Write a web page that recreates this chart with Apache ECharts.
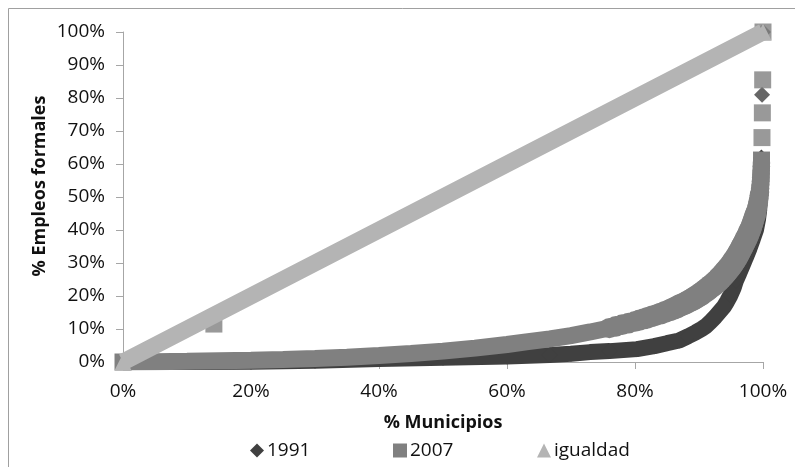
<!DOCTYPE html>
<html>
<head>
<meta charset="utf-8">
<script src="https://cdn.jsdelivr.net/npm/echarts@6/dist/echarts.min.js"></script>
<style>html,body{margin:0;padding:0;background:#fff;}#c{width:795px;height:467px;}</style>
</head>
<body>
<div id="c"></div>
<script>
// % Municipios (x) vs % Empleos formales (y)
var serie1991 = [[0,0],[10,0],[20,0.1],[30,0.4],[40,0.9],[50,1.3],[60,1.7],[66.7,2.1],[70,2.5],[73,3.0],[76,3.3],[80.3,3.9],[83,4.8],[85,5.7],[86.9,6.5],[88.3,7.8],[89.5,9.0],[90.4,10.0],[91.1,10.9],[91.8,12.2],[92.5,13.6],[93.2,15.2],[93.9,16.8],[94.4,18.4],[94.9,20.2],[95.4,22.4],[95.8,24.8],[96.3,27.0],[96.8,29.3],[97.3,31.6],[97.9,34.5],[98.4,37.2],[98.9,40],[99.2,43],[99.4,46],[99.5,49],[99.6,52.5],[99.65,56],[99.7,59],[99.75,62]];
var puntos1991 = [[99.85,81],[100,100]];
var serie2007 = [[0,0],[5,0.1],[10,0.2],[15,0.35],[20,0.5],[25,0.75],[30,1.05],[35,1.45],[40,2.0],[45,2.6],[50,3.3],[55,4.2],[60,5.3],[63,6.1],[66.7,7.0],[70,8.0],[73,9.1],[76,10.3],[77,10.8],[78,11.3],[79,11.8],[80,12.3],[80.7,12.7],[81.4,13.1],[82,13.4],[82.7,13.9],[83.4,14.3],[84,14.7],[84.7,15.2],[85.4,15.7],[86,16.2],[86.5,16.6],[87,17.1],[87.5,17.5],[88,18.0],[88.5,18.5],[89,19.0],[89.4,19.5],[89.9,20.1],[90.3,20.6],[90.8,21.3],[91.3,22.0],[91.7,22.7],[92.2,23.4],[92.6,24.1],[93,24.8],[93.35,25.5],[93.7,26.2],[94.0,26.9],[94.3,27.6],[94.6,28.3],[94.9,29.0],[95.15,29.7],[95.4,30.4],[95.65,31.1],[95.9,31.9],[96.1,32.6],[96.3,33.3],[96.5,34.0],[96.7,34.8],[96.9,35.5],[97.1,36.3],[97.3,37.1],[97.5,37.9],[97.7,38.7],[97.85,39.5],[98.05,40.3],[98.2,41.2],[98.35,42.0],[98.5,42.9],[98.65,43.8],[98.8,44.7],[98.95,45.6],[99.05,46.6],[99.15,47.5],[99.25,48.5],[99.35,49.5],[99.42,50.5],[99.5,51.5],[99.55,52.6],[99.6,53.7],[99.64,54.8],[99.67,55.9],[99.7,57.0],[99.72,58.1],[99.74,59.3],[99.76,60.3],[99.77,61.2]];
var puntos2007 = [[14.2,11.5],[99.84,68],[99.9,75.5],[99.95,85.5],[100,100]];
var igualdad = [[0,0],[10,10],[20,20],[30,30],[40,40],[50,50],[60,60],[70,70],[80,80],[90,90],[100,100]];

var c1991 = '#404040', c2007 = '#808080', cIg = '#b4b4b4';
var font = '"Open Sans", Lato, sans-serif';
var GRID = {left: 123, right: 32, top: 32, bottom: 105};
var W = 795, H = 467;
var plotW = W - GRID.left - GRID.right, plotH = H - GRID.top - GRID.bottom;
var SQ = 17;

var chart = echarts.init(document.getElementById('c'));
function legendItem(name, icon, left) {
  return {
    data: [{name: name, icon: icon}],
    left: left, top: 436, itemWidth: 14, itemHeight: 14, itemGap: 0,
    textStyle: {fontFamily: font, fontSize: 19, color: '#111', padding: [0, 0, 0, -2]},
    selectedMode: false
  };
}
function withMarkers(arr, sym, endSym, fromX) {
  return arr.map(function (p, i) {
    var end = i === 0 || i === arr.length - 1;
    return {value: p, symbol: end ? endSym : (p[0] >= fromX ? sym : 'none')};
  });
}
// width of a band of axis-aligned squares, seen across the local direction of the curve
function squareBandSize(arr) {
  return function (val, params) {
    var i = params.dataIndex;
    if (i === 0 || i === arr.length - 1) return SQ;
    var a = arr[i - 1], b = arr[i + 1];
    var ang = Math.atan2((b[1] - a[1]) * plotH / 100, (b[0] - a[0]) * plotW / 100);
    return SQ * (Math.abs(Math.cos(ang)) + Math.abs(Math.sin(ang)));
  };
}
chart.setOption({
  animation: false,
  backgroundColor: '#fff',
  grid: GRID,
  legend: [legendItem('1991', 'diamond', 245), legendItem('2007', 'rect', 388), legendItem('igualdad', 'triangle', 532)],
  xAxis: {
    type: 'value', min: 0, max: 100, interval: 20,
    name: '% Municipios', nameLocation: 'middle', nameGap: 52,
    nameTextStyle: {fontFamily: font, fontSize: 18, fontWeight: 'bold', color: '#111'},
    axisLine: {show: true, lineStyle: {color: '#a6a6a6', width: 1}},
    axisTick: {show: true, length: 7, lineStyle: {color: '#a6a6a6'}},
    splitLine: {show: false},
    axisLabel: {fontFamily: font, fontSize: 19, color: '#111', margin: 20, formatter: '{value}%'}
  },
  yAxis: {
    type: 'value', min: 0, max: 100, interval: 10,
    axisLine: {show: true, lineStyle: {color: '#a6a6a6', width: 1}},
    axisTick: {show: true, length: 7, lineStyle: {color: '#a6a6a6'}},
    splitLine: {show: false},
    axisLabel: {fontFamily: font, fontSize: 19, color: '#111', margin: 18, formatter: '{value}%'}
  },
  graphic: [
    {type: 'rect', silent: true, z: -10, shape: {x: 8.5, y: 8.5, width: 820, height: 520}, style: {fill: null, stroke: '#a0a0a0', lineWidth: 1}},
    {type: 'text', x: 40, y: 186, rotation: Math.PI / 2, style: {text: '% Empleos formales', fontFamily: font, fontSize: 18, fontWeight: 'bold', fill: '#111', textAlign: 'center', textVerticalAlign: 'middle'}}
  ],
  series: [
    {name: '1991', type: 'line', data: withMarkers(serie1991, 'diamond', 'diamond', 0), symbol: 'diamond', symbolSize: 16, showSymbol: true,
     itemStyle: {color: c1991}, lineStyle: {color: c1991, width: 16}, z: 2},
    {name: '1991', type: 'scatter', data: puntos1991, symbol: 'diamond', symbolSize: 16, itemStyle: {color: c1991}, z: 2},
    {name: '2007', type: 'line', data: withMarkers(serie2007, 'circle', 'rect', 76), symbol: 'rect', symbolSize: squareBandSize(serie2007), showSymbol: true,
     itemStyle: {color: c2007}, lineStyle: {color: c2007, width: SQ}, z: 3},
    {name: '2007', type: 'scatter', data: puntos2007, symbol: 'rect', symbolSize: SQ, itemStyle: {color: c2007}, z: 3},
    {name: 'igualdad', type: 'line', data: withMarkers(igualdad, 'none', 'triangle', 1000), symbol: 'triangle', symbolSize: 17, showSymbol: true,
     itemStyle: {color: cIg}, lineStyle: {color: cIg, width: 17}, z: 4}
  ]
});
</script>
</body>
</html>
